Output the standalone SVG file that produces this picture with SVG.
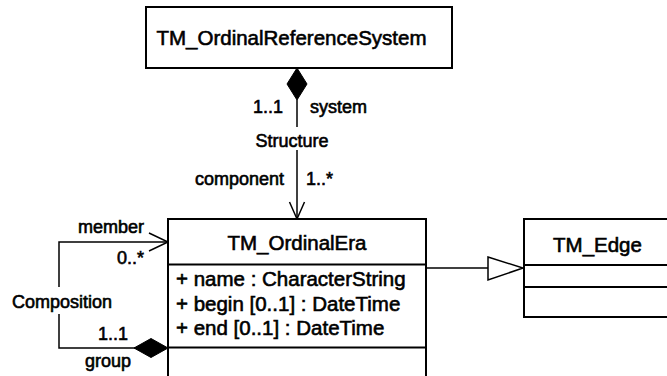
<svg xmlns="http://www.w3.org/2000/svg" width="667" height="376" viewBox="0 0 667 376">
<style>
.box{fill:#fff;stroke:#000;stroke-width:2}
.ln{fill:none;stroke:#000;stroke-width:1.5}
.t{font-family:"Liberation Sans",Arial,sans-serif;font-size:20.5px;fill:#000;stroke:#000;stroke-width:0.6}
.l{font-family:"Liberation Sans",Arial,sans-serif;font-size:18px;fill:#000;stroke:#000;stroke-width:0.6}
.fill{fill:#000;stroke:#000;stroke-width:1}
.hollow{fill:#fff;stroke:#000;stroke-width:1.5}
</style>
<rect width="667" height="376" fill="#fff"/>
<g id="connectors">
  <line class="ln" x1="297" y1="100" x2="297" y2="127"/>
  <line class="ln" x1="297" y1="150" x2="297" y2="219"/>
  <polygon class="fill" points="297,68 307,84 297,100 287,84"/>
  <polyline class="ln" points="289.5,202 297,219 304.5,202"/>
  <text class="l" x="283" y="113" text-anchor="end">1..1</text>
  <text class="l" x="310" y="113">system</text>
  <text class="l" x="292" y="147" text-anchor="middle">Structure</text>
  <text class="l" x="284" y="185" text-anchor="end">component</text>
  <text class="l" x="306" y="185">1..*</text>
  <polyline class="ln" points="168,242 59,242 59,287"/>
  <polyline class="ln" points="59,314 59,348 136,348"/>
  <polyline class="ln" points="149,233 168,242 149,251"/>
  <polygon class="fill" points="168,348 151,338.5 134,348 151,357.5"/>
  <text class="l" x="144" y="233" text-anchor="end">member</text>
  <text class="l" x="144" y="264" text-anchor="end">0..*</text>
  <text class="l" x="62" y="308" text-anchor="middle">Composition</text>
  <text class="l" x="128" y="340" text-anchor="end">1..1</text>
  <text class="l" x="131" y="367" text-anchor="end">group</text>
  <line class="ln" x1="426" y1="268" x2="488" y2="268"/>
  <polygon class="hollow" points="488,257 523,268 488,280"/>
</g>
<g id="TM_OrdinalReferenceSystem">
  <rect class="box" x="146" y="7" width="306" height="61"/>
  <text class="t" x="291.5" y="45" text-anchor="middle">TM_OrdinalReferenceSystem</text>
</g>
<g id="TM_OrdinalEra">
  <rect class="box" x="168" y="219" width="258" height="180"/>
  <line class="box" x1="168" y1="264.5" x2="426" y2="264.5"/>
  <line class="box" x1="168" y1="347.5" x2="426" y2="347.5"/>
  <text class="t" x="297" y="250" text-anchor="middle">TM_OrdinalEra</text>
  <text class="t" x="176" y="286">+ name : CharacterString</text>
  <text class="t" x="176" y="311">+ begin [0..1] : DateTime</text>
  <text class="t" x="176" y="335">+ end [0..1] : DateTime</text>
</g>
<g id="TM_Edge">
  <rect class="box" x="524" y="219" width="160" height="98"/>
  <line class="box" x1="524" y1="265" x2="684" y2="265"/>
  <line class="box" x1="524" y1="287" x2="684" y2="287"/>
  <text class="t" x="597.5" y="252" text-anchor="middle">TM_Edge</text>
</g>
</svg>
